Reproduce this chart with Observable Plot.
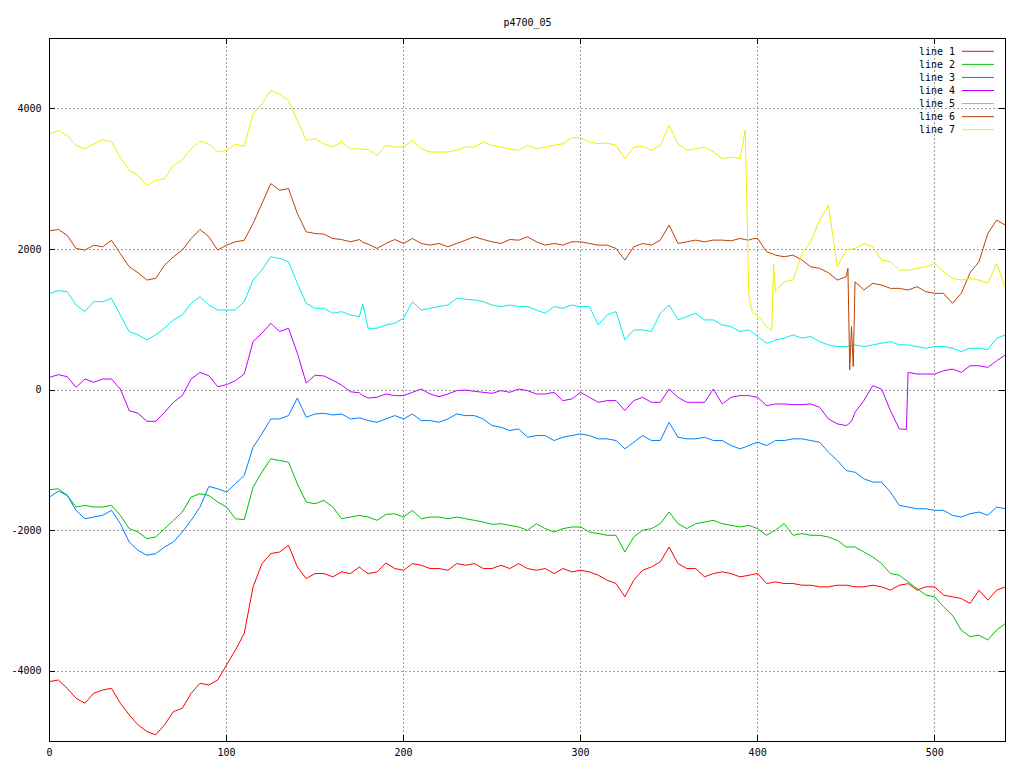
<!DOCTYPE html>
<html><head><meta charset="utf-8">
<script src="https://cdn.jsdelivr.net/npm/d3@7"></script>
<script src="https://cdn.jsdelivr.net/npm/@observablehq/plot@0.6"></script>
<style>body{margin:0;background:#fff;} svg{display:block}</style>
</head><body><div id="chart"></div>
<script>
const title = "p4700_05";
const xs = [0,5,10,15,20,25,30,35,40,45,50,55,60,65,70,75,80,85,90,95,100,105,110,115,120,125,130,135,140,145,150,155,160,165,170,175,177,180,
185,190,195,200,205,210,215,220,225,230,235,240,245,250,255,260,265,270,275,280,285,290,295,300,305,310,315,320,325,330,335,340,345,350,355,360,
365,370,375,380,385,390,393,395,397,400,405,408,409,410,415,420,425,430,435,440,445,450,451,452,453,454,455,460,465,470,475,480,484,485,490,495,500,505,510,515,520,525,530,535,540];

const line1 = [-4148,-4125,-4243,-4385,-4456,-4314,-4267,-4243,-4456,-4621,-4763,-4858,-4905,
-4763,-4574,-4527,-4314,-4172,-4196,-4125,-3912,-3700,-3463,-2801,-2470,-2327,-2304,-2209,-2517,-2682,-2611,-2611,-2658,-2587,-2611,-2517,-2560,-2611,
-2587,-2460,-2540,-2564,-2469,-2493,-2540,-2540,-2564,-2469,-2493,-2469,-2540,-2540,-2493,-2540,-2469,-2540,-2564,-2540,-2611,-2540,-2587,-2564,-2587,-2635,-2706,-2753,-2942,-2706,-2564,-2517,-2445,-2233,-2469,-2540,
-2540,-2658,-2611,-2587,-2611,-2658,-2645,-2635,-2625,-2611,-2753,-2740,-2735,-2729,-2753,-2753,-2777,-2777,-2800,-2800,-2777,-2777,-2780,-2785,-2790,-2795,-2800,-2800,-2777,-2800,-2847,-2777,-2760,-2753,-2847,-2800,-2800,-2918,-2942,-2966,-3037,-2847,-2989,-2847,-2800];

const line2 = [-1419,-1405,-1499,-1665,-1641,-1665,-1665,-1641,-1783,-1972,-2020,-2114,-2091,
-1972,-1854,-1736,-1523,-1476,-1499,-1594,-1665,-1831,-1845,-1381,-1168,-979,-1003,-1026,-1334,-1594,-1618,-1570,-1665,-1831,-1807,-1783,-1795,-1807,
-1854,-1769,-1760,-1807,-1712,-1831,-1807,-1807,-1831,-1807,-1831,-1854,-1878,-1911,-1902,-1925,-1949,-1996,-1902,-1972,-2020,-1972,-1949,-1949,-2020,-2043,-2067,-2067,-2304,-2091,-1996,-1972,-1902,-1736,-1902,-1972,
-1902,-1878,-1854,-1902,-1925,-1949,-1935,-1925,-1945,-1972,-2067,-2020,-2005,-1996,-1900,-2067,-2043,-2067,-2067,-2091,-2138,-2233,-2233,-2233,-2233,-2233,-2233,-2304,-2375,-2469,-2611,-2635,-2710,-2729,-2824,-2918,-2942,-3084,-3202,-3415,-3510,-3486,-3557,-3415,-3320];

const line3 = [-1523,-1438,-1499,-1712,-1831,-1807,-1783,-1712,-1901,-2162,-2280,-2351,-2328,
-2233,-2162,-2020,-1854,-1665,-1372,-1405,-1452,-1334,-1216,-814,-624,-412,-412,-364,-114,-388,-341,-331,-355,-341,-412,-397,-410,-435,
-459,-412,-364,-412,-341,-435,-435,-459,-412,-341,-364,-364,-412,-506,-530,-577,-553,-672,-648,-648,-719,-672,-648,-624,-648,-695,-695,-719,-837,-743,-648,-719,-719,-459,-672,-695,
-695,-672,-719,-719,-790,-837,-810,-790,-770,-743,-790,-750,-735,-719,-719,-695,-695,-719,-743,-884,-1003,-1145,-1150,-1155,-1160,-1165,-1168,-1263,-1310,-1310,-1452,-1641,-1660,-1665,-1689,-1689,-1712,-1712,-1783,-1807,-1760,-1736,-1783,-1665,-1689];

const line4 = [180,218,189,38,156,109,156,156,14,-293,-331,-445,-445,
-317,-175,-80,156,251,203,47,76,132,227,689,807,949,831,878,523,100,210,200,140,70,-25,-40,-80,-114,
-104,-57,-80,-80,-33,14,-57,-95,-57,-9,0,-19,-33,-47,-9,-33,14,-9,-57,-57,-33,-151,-128,-33,-104,-175,-151,-151,-293,-151,-104,-175,-175,14,-104,-175,
-175,-175,14,-199,-104,-80,-80,-80,-90,-104,-222,-210,-205,-199,-199,-208,-208,-199,-246,-412,-482,-506,-490,-470,-440,-390,-317,-151,61,14,-293,-553,-560,251,227,227,227,274,298,251,345,345,321,416,500];

const line5 = [1375,1413,1398,1209,1115,1257,1257,1304,1067,831,784,713,784,
878,997,1067,1233,1327,1209,1138,1138,1138,1257,1564,1706,1895,1871,1824,1517,1233,1162,1162,1091,1115,1067,1044,1223,878,
878,926,949,1020,1257,1138,1162,1186,1209,1304,1290,1280,1257,1209,1186,1209,1186,1186,1138,1091,1186,1162,1209,1186,1186,926,1067,1115,713,855,855,831,1091,1209,997,1044,
1091,997,997,926,902,831,845,855,820,760,665,690,700,713,737,784,737,760,689,642,618,618,620,625,630,635,642,618,642,665,689,642,642,642,618,594,618,618,594,547,594,594,571,737,784];

const line6 = [2264,2283,2200,2013,1990,2060,2037,2130,1940,1753,1668,1564,1588,
1777,1895,1990,2155,2283,2180,1990,2060,2108,2130,2368,2652,2936,2841,2865,2510,2250,2226,2217,2155,2140,2108,2140,2100,2075,
2013,2084,2141,2084,2155,2084,2061,2084,2037,2084,2131,2179,2141,2108,2084,2141,2131,2179,2108,2061,2084,2061,2108,2108,2084,2061,2061,2013,1848,2037,2084,2061,2131,2345,2084,2108,
2132,2108,2132,2132,2122,2155,2140,2132,2150,2155,1966,1940,1930,1919,1895,1919,1848,1753,1730,1668,1564,1611,1730,287,902,334,1540,1422,1517,1493,1446,1446,1427,1422,1470,1399,1375,1375,1233,1375,1668,1824,2226,2416,2345];

const line7 = [3645,3690,3620,3480,3430,3500,3560,3530,3310,3125,3055,2910,2980,
3005,3195,3275,3430,3540,3500,3385,3410,3500,3465,3930,4070,4260,4210,4120,3835,3550,3575,3500,3455,3530,3430,3430,3425,3420,
3338,3480,3456,3456,3550,3432,3385,3385,3385,3409,3456,3456,3527,3480,3456,3432,3409,3480,3432,3456,3480,3503,3588,3588,3527,3503,3513,3480,3290,3456,3466,3409,3480,3763,3503,3409,
3432,3456,3385,3290,3314,3290,3700,1350,1100,1060,902,850,1800,1400,1540,1564,1940,2110,2416,2630,1753,1990,1995,2000,2005,2010,2013,2084,2037,1848,1824,1706,1706,1706,1730,1753,1800,1682,1588,1564,1588,1564,1517,1800,1446];

const seriesNames = ["line 1","line 2","line 3","line 4","line 5","line 6","line 7"];
const seriesColors = ["#ff0000","#00c000","#0080ff","#c000ff","#00eeee","#c04000","#eeee00"];
const seriesValues = [line1,line2,line3,line4,line5,line6,line7];
const xTicks = [0,100,200,300,400,500];
const yTicks = [-4000,-2000,0,2000,4000];
const xGrid = [100,200,300,400,500];

seriesValues.forEach((s,i)=>{ if (s.length !== xs.length) console.error(seriesNames[i], s.length, xs.length); });

const table = seriesValues.flatMap((s,i) => xs.map((x,j) => ({x, y: s[j], line: seriesNames[i]})));

const W = 1024, H = 768, mL = 49, mR = 19, mT = 38, mB = 27;
const plotW = W - mL - mR, plotH = H - mT - mB, tickLen = 6;
const font = "'DejaVu Sans Mono', monospace";

const chart = Plot.plot({
  width: W, height: H,
  marginLeft: mL, marginRight: mR, marginTop: mT, marginBottom: mB,
  style: {fontFamily: font, fontSize: "10px", background: "#fff", color: "#000"},
  x: {domain: [0, 540], axis: null},
  y: {domain: [-5000, 5000], axis: null},
  color: {domain: seriesNames, range: seriesColors},
  marks: [
    Plot.ruleX(xGrid, {x: d => d, stroke: "#a0a0a0", strokeDasharray: "2,2", shapeRendering: "crispEdges"}),
    Plot.ruleY(yTicks, {y: d => d, stroke: "#a0a0a0", strokeDasharray: "2,2", shapeRendering: "crispEdges"}),
    Plot.line(table, {x: "x", y: "y", z: "line", stroke: "line", strokeWidth: 1}),
    Plot.frame({stroke: "#000", shapeRendering: "crispEdges"}),
    Plot.tickY(yTicks, {y: d => d, insetRight: plotW - tickLen, stroke: "#000", shapeRendering: "crispEdges"}),
    Plot.tickY(yTicks, {y: d => d, insetLeft: plotW - tickLen, stroke: "#000", shapeRendering: "crispEdges"}),
    Plot.tickX(xTicks, {x: d => d, insetTop: plotH - tickLen, stroke: "#000", shapeRendering: "crispEdges"}),
    Plot.tickX(xTicks, {x: d => d, insetBottom: plotH - tickLen, stroke: "#000", shapeRendering: "crispEdges"}),
    Plot.text(yTicks, {y: d => d, frameAnchor: "left", dx: -8, textAnchor: "end", text: d => String(d), fill: "#000"}),
    Plot.text(xTicks, {x: d => d, frameAnchor: "bottom", dy: 14, text: d => String(d), fill: "#000"}),
    Plot.text([title], {frameAnchor: "top", dy: -20, text: d => d, fill: "#000"})
  ]
});

const svg = d3.select(chart);
const right = W - mR;
const leg = svg.append("g").attr("font-family", font).attr("font-size", 10);
seriesNames.forEach((name, i) => {
  const y = mT + 13.3 + i * 13.07;
  leg.append("text").attr("x", right - 50).attr("y", y).attr("dy", "0.32em")
    .attr("text-anchor", "end").attr("fill", "#000").text(name);
  leg.append("line").attr("x1", right - 43).attr("x2", right - 11)
    .attr("y1", y).attr("y2", y).attr("stroke", seriesColors[i]).attr("stroke-width", 1);
});

document.getElementById("chart").appendChild(chart);
</script>
</body></html>
